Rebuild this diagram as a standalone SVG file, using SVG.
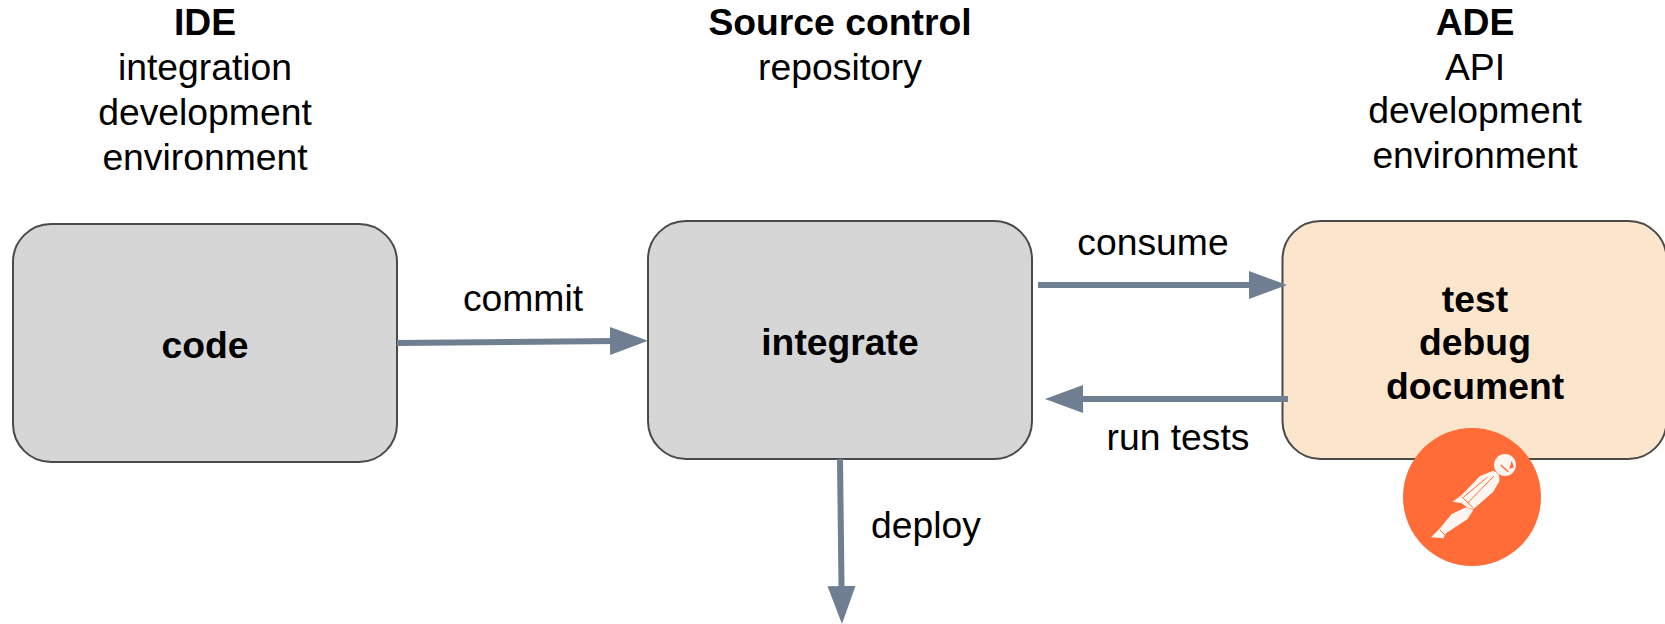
<svg xmlns="http://www.w3.org/2000/svg" width="1665" height="624" viewBox="0 0 1665 624">
<defs>
<marker id="ah" markerUnits="userSpaceOnUse" markerWidth="40" markerHeight="30" refX="6" refY="14" orient="auto"><path d="M0 0L38 14L0 28Z" fill="#6f7f91"/></marker>
</defs>
<style>
text{font-family:"Liberation Sans",Arial,sans-serif;font-size:37.3px;fill:#000;text-anchor:middle}
.b{font-weight:bold}
.box{stroke:#4a4a4a;stroke-width:2}
.grey{fill:#d6d6d6}
.peach{fill:#fce5cd}
.c{stroke:#6f7f91;stroke-width:6;fill:none;marker-end:url(#ah)}
</style>
<rect width="1665" height="624" fill="#fff"/>
<g id="node-code">
<rect class="box grey" x="13" y="224" width="384" height="238" rx="38"/>
<text class="b" x="205" y="358">code</text>
</g>
<g id="node-integrate">
<rect class="box grey" x="648" y="221" width="384" height="238" rx="38"/>
<text class="b" x="840" y="355">integrate</text>
</g>
<g id="node-test">
<rect class="box peach" x="1282.5" y="221" width="384" height="238" rx="38"/>
<text class="b" x="1475" y="312">test</text>
<text class="b" x="1475" y="355">debug</text>
<text class="b" x="1475" y="399">document</text>
</g>
<g id="postman-icon">
<circle cx="1472" cy="497" r="69" fill="#ff6c37"/>
<g transform="translate(1380 420) scale(.3333)">
<circle cx="375" cy="135" r="33" fill="#fdf6f0"/>
<path d="M300 168L340 152Q362 160 358 184L340 215L280 268L262 262L245 250L218 245L245 225Z" fill="#fdf6f0"/>
<path d="M258 262L280 270L262 298L198 340L190 355L153 352L180 325L215 282Z" fill="#fdf6f0"/>
<path d="M362 135L385 155" fill="none" stroke="#ff6c37" stroke-width="4"/>
<path d="M395 122L402 142L388 147Z" fill="#ff6c37"/>
<path d="M342 168L262 250M322 172L250 232M245 230L280 264M180 330L195 345" fill="none" stroke="#ff6c37" stroke-width="3"/>
</g>
</g>
<g id="connectors">
<path class="c" d="M397 343L616 341"/>
<path class="c" d="M1038 285L1255 285"/>
<path class="c" d="M1288 399L1077 399"/>
<path class="c" d="M840 459L841.6 592"/>
</g>
<g id="labels">
<text class="b" x="205" y="35">IDE</text>
<text x="205" y="80">integration</text>
<text x="205" y="125">development</text>
<text x="205" y="170">environment</text>
<text class="b" x="840" y="35">Source control</text>
<text x="840" y="80">repository</text>
<text class="b" x="1475" y="35">ADE</text>
<text x="1475" y="80">API</text>
<text x="1475" y="123">development</text>
<text x="1475" y="168">environment</text>
<text x="523" y="311">commit</text>
<text x="1153" y="255">consume</text>
<text x="1178" y="450">run tests</text>
<text x="926" y="538">deploy</text>
</g>
</svg>
